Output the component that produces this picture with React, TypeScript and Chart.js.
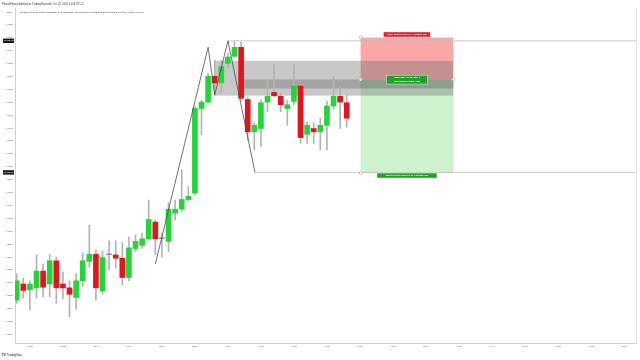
import { useEffect, useRef } from "react";
import { Chart, registerables } from "chart.js";

Chart.register(...registerables);

// ---- data (minutes since 13:28, 1-minute candles) ----
const minutes = [
  0, 1, 2, 3, 4, 5, 6, 7, 8, 9, 10, 11, 12, 13, 14, 15, 16, 17, 18, 19, 20, 21, 22, 23, 24, 25,
  26, 27, 28, 29, 30, 31, 32, 33, 34, 35, 36, 37, 38, 39, 40, 41, 42, 43, 44, 45, 46, 47, 48, 49, 50,
];
const opens = [
  14573.25, 14579.5, 14577.25, 14578, 14584.5, 14579.5, 14588.5, 14579.5, 14578, 14574.25,
  14580.75, 14588.25, 14591, 14576.75, 14591, 14590.75, 14589.5, 14582, 14593.25, 14594.5,
  14597, 14603.5, 14597.25, 14596, 14607, 14608.5, 14612.25, 14614.75, 14647.5, 14650,
  14660, 14657.5, 14665, 14667.75, 14671.25, 14651, 14638.5, 14639.75, 14650, 14653.75,
  14652.25, 14647.5, 14650.25, 14656.25, 14637.5, 14639.75, 14638.5, 14641, 14648.5, 14652.25,
  14649.75,
];
const highs = [
  14583.5, 14581.75, 14580.75, 14590.75, 14587.25, 14591, 14590, 14584.25, 14580.75, 14583.5,
  14591.5, 14602.25, 14592.75, 14592.25, 14596.25, 14596.25, 14595.5, 14597.75, 14598.5, 14599.25,
  14612, 14604.25, 14599.25, 14611, 14612, 14623.75, 14617.25, 14648.25, 14650.75, 14661.25,
  14666.25, 14666.25, 14669, 14673.5, 14673.25, 14652, 14642, 14650.75, 14658.5, 14664.5,
  14653.5, 14650.75, 14664.5, 14656.75, 14642.25, 14642, 14643.75, 14650.25, 14659.75, 14656,
  14652.75,
];
const lows = [
  14572, 14574, 14569.5, 14574, 14574.5, 14574.5, 14572, 14573.75, 14566.75, 14569.75,
  14578.5, 14586, 14573.25, 14575.5, 14585, 14585.75, 14579.25, 14580.75, 14592, 14593.25,
  14596.5, 14590.75, 14590, 14592, 14604.25, 14607.5, 14611.5, 14614, 14637.25, 14649.75,
  14652.75, 14653.5, 14663.25, 14667.5, 14650.75, 14635.25, 14631.5, 14632.75, 14646.25, 14652,
  14646.25, 14641, 14649, 14634, 14634, 14634, 14631.5, 14631.5, 14647.25, 14639.75,
  14640.25,
];
const closes = [
  14580.75, 14577, 14579.5, 14584.5, 14578.25, 14588.5, 14578, 14578, 14575.5, 14580.75,
  14588.5, 14591, 14578, 14589.75, 14591, 14589.5, 14582, 14593.5, 14596, 14597,
  14604.5, 14597, 14597.25, 14608.5, 14608.5, 14612.25, 14613.5, 14647.5, 14650, 14660,
  14657.5, 14663.75, 14667.5, 14671.25, 14651.5, 14638.5, 14641, 14649.75, 14652.25, 14652.5,
  14649, 14649, 14656.25, 14636.25, 14641, 14638.5, 14641, 14648.5, 14652.25, 14650,
  14643.75,
];

const priceTicks = [
  14560, 14565, 14570, 14575, 14580, 14585, 14590, 14595, 14600, 14605, 14610, 14615, 14620,
  14625, 14630, 14635, 14640, 14645, 14650, 14655, 14660, 14665, 14670, 14675, 14680,
];
const timeTickIdx = [2, 7, 12, 17, 22, 27, 32, 37, 42, 47, 52, 57, 62, 67, 72, 77, 82, 87, 92];
const timeTickLabels = [
  "13:30", "13:35", "13:40", "13:45", "13:50", "13:55", "14:00", "14:05", "14:10", "14:15",
  "14:20", "14:25", "14:30", "14:35", "14:40", "14:45", "14:50", "14:55", "15:00",
];

// drawings (chart units)
const zigzagX = [21, 29, 30, 32, 36.1];
const zigzagY = [14587.25, 14671.25, 14652.75, 14673.75, 14622.75];
const levelTop = 14673.75;
const levelTopStart = 32;
const levelBottom = 14622.75;
const levelBottomStart = 36.1;
const rangeStart = 30;
const rangeEnd = 66.15;
const rangeHigh = 14666;
const rangeLow = 14652.5;
const bandStart = 34.25;
const bandHigh = 14658.75;
const bandLow = 14655.25;
const posStart = 52.1;
const posEnd = 66.15;
const posEntry = 14658.75;
const posStop = 14675;
const posTarget = 14622.5;

const xMin = -0.26;
const xMax = 93.83;
const yMin = 14556.63;
const yMax = 14686.47;

const GREEN = "#22d639";
const RED = "#e3151c";
const FONT = "'Liberation Sans', Arial, sans-serif";

const overlay = {
  id: "overlay",
  beforeDatasetsDraw(chart: any) {
    const { ctx, chartArea: a, scales } = chart;
    const x = scales.x;
    const y = scales.y;
    const rect = (x0: number, x1: number, v0: number, v1: number, c: string) => {
      const px0 = x.getPixelForValue(x0);
      const px1 = x.getPixelForValue(x1);
      const py0 = y.getPixelForValue(v0);
      const py1 = y.getPixelForValue(v1);
      ctx.fillStyle = c;
      ctx.fillRect(px0, Math.min(py0, py1), px1 - px0, Math.abs(py1 - py0));
    };
    ctx.save();
    ctx.beginPath();
    ctx.rect(a.left, a.top, a.right - a.left, a.bottom - a.top);
    ctx.clip();
    rect(posStart, posEnd, posEntry, posStop, "rgba(242,60,60,0.45)");
    rect(posStart, posEnd, posTarget, posEntry, "rgba(60,200,60,0.25)");
    rect(rangeStart, rangeEnd, rangeLow, rangeHigh, "rgba(110,110,110,0.38)");
    rect(bandStart, rangeEnd, bandLow, bandHigh, "rgba(80,80,80,0.3)");
    ctx.restore();
  },
  afterDraw(chart: any) {
    const { ctx, chartArea: a, scales } = chart;
    const x = scales.x;
    const y = scales.y;
    ctx.save();
    // right border
    ctx.strokeStyle = "#e2e2e2";
    ctx.lineWidth = 1;
    ctx.beginPath();
    ctx.moveTo(a.right + 0.5, a.top);
    ctx.lineTo(a.right + 0.5, a.bottom);
    ctx.stroke();

    const midX = (x.getPixelForValue(posStart) + x.getPixelForValue(posEnd)) / 2;
    const label = (cx: number, top: number, w: number, h: number, bg: string, lines: string[]) => {
      ctx.fillStyle = bg;
      ctx.fillRect(cx - w / 2, top, w, h);
      ctx.strokeStyle = "rgba(255,255,255,0.8)";
      ctx.lineWidth = 0.5;
      ctx.strokeRect(cx - w / 2, top, w, h);
      ctx.fillStyle = "#ffffff";
      ctx.font = `bold 2.3px ${FONT}`;
      ctx.textAlign = "center";
      ctx.textBaseline = "middle";
      const lh = h / lines.length;
      lines.forEach((t, i) => ctx.fillText(t, cx, top + lh * (i + 0.5)));
    };
    const pStop = y.getPixelForValue(posStop);
    const pEntry = y.getPixelForValue(posEntry);
    const pTarget = y.getPixelForValue(posTarget);
    label(midX, pStop - 5.6, 47, 5, "#e3202a", ["Stop: 16.25 (0.11%) 65, Amount: 325"]);
    label(midX, pEntry - 4.3, 40.6, 8.8, "#1fa42a", ["Open P&L: 14.75, Qty: 1", "Risk/Reward Ratio: 2.23"]);
    label(midX, pTarget, 60, 5, "#1fa42a", ["Target: 36.25 (0.25%) 145, Amount: 725"]);

    // handles
    const px0 = x.getPixelForValue(posStart);
    const px1 = x.getPixelForValue(posEnd);
    const handle = (hx: number, hy: number) => {
      ctx.beginPath();
      ctx.arc(hx, hy, 1.5, 0, Math.PI * 2);
      ctx.fillStyle = "#ffffff";
      ctx.fill();
      ctx.strokeStyle = "#9a9a9a";
      ctx.lineWidth = 0.6;
      ctx.stroke();
    };
    handle(px0, pStop);
    handle(px0, pEntry);
    handle(px1, pEntry);
    handle(px0, pTarget);

    // axis price boxes
    const axisBox = (v: number) => {
      const py = y.getPixelForValue(v);
      ctx.fillStyle = "#131722";
      ctx.fillRect(3, py - 2.2, 11, 4.4);
      ctx.fillStyle = "#ffffff";
      ctx.font = `2.4px ${FONT}`;
      ctx.textAlign = "center";
      ctx.textBaseline = "middle";
      ctx.fillText(v.toFixed(2), 8.5, py);
    };
    axisBox(levelTop);
    axisBox(levelBottom);

    // header texts
    ctx.fillStyle = "#333333";
    ctx.textAlign = "left";
    ctx.textBaseline = "middle";
    ctx.font = `2.6px ${FONT}`;
    ctx.fillText("PharaoFlow published on TradingView.com, Oct 25, 2023 14:18 UTC-5", 2, 4);
    ctx.fillStyle = "#131722";
    ctx.font = `2.5px ${FONT}`;
    ctx.fillText(
      "NASDAQ 100 E-MINI FUTURES, 1, BATS/CME   O14649.75 H14652.75 L14640.25 C14643.75 −6.25 (−0.04%)",
      20,
      12
    );
    ctx.fillStyle = "#555555";
    ctx.font = `2.4px ${FONT}`;
    ctx.fillText("USD", 6.5, 12);
    // logo
    ctx.fillStyle = "#131722";
    ctx.font = `bold 3px ${FONT}`;
    ctx.fillText("TV", 2, 354.8);
    ctx.font = `2.7px ${FONT}`;
    ctx.fillText("TradingView", 7, 354.8);
    ctx.restore();
  },
};

export default function App() {
  const ref = useRef<HTMLCanvasElement | null>(null);
  useEffect(() => {
    if (!ref.current) return;
    const bodies = minutes.map((m, i) => {
      const o = opens[i];
      const c = closes[i];
      if (Math.abs(c - o) < 0.2) return { x: m, y: [o - 0.15, o + 0.15] };
      return { x: m, y: [Math.min(o, c), Math.max(o, c)] };
    });
    const bodyColors = minutes.map((_, i) =>
      closes[i] > opens[i] ? GREEN : closes[i] < opens[i] ? RED : "#8a8a8a"
    );
    const wicks = minutes.map((m, i) => ({ x: m, y: [lows[i], highs[i]] }));
    const zig = zigzagX.map((v, i) => ({ x: v, y: zigzagY[i] }));
    const topLine = [
      { x: levelTopStart, y: levelTop },
      { x: xMax, y: levelTop },
    ];
    const botLine = [
      { x: levelBottomStart, y: levelBottom },
      { x: xMax, y: levelBottom },
    ];
    const chart = new Chart(ref.current, {
      type: "bar",
      data: {
        datasets: [
          {
            type: "line",
            data: zig,
            borderColor: "#4d4d4d",
            borderWidth: 0.8,
            pointRadius: 0,
            order: -3,
          } as any,
          {
            type: "line",
            data: topLine,
            borderColor: "#bdbdbd",
            borderWidth: 0.8,
            pointRadius: 0,
            order: -2,
          } as any,
          {
            type: "line",
            data: botLine,
            borderColor: "#bdbdbd",
            borderWidth: 0.8,
            pointRadius: 0,
            order: -1,
          } as any,
          {
            type: "bar",
            data: bodies,
            backgroundColor: bodyColors,
            borderWidth: 0,
            barThickness: 5,
            grouped: false,
            order: 0,
          } as any,
          {
            type: "bar",
            data: wicks,
            backgroundColor: "#b3b3b3",
            borderWidth: 0,
            barThickness: 1,
            grouped: false,
            order: 1,
          } as any,
        ],
      },
      options: {
        responsive: false,
        animation: false,
        devicePixelRatio: 1,
        events: [],
        layout: { padding: { left: 0, right: 4, top: 8, bottom: 8 } },
        plugins: { legend: { display: false }, tooltip: { enabled: false } },
        scales: {
          x: {
            type: "linear",
            min: xMin,
            max: xMax,
            offset: false,
            grid: { display: false, drawTicks: false, offset: false },
            border: { display: true, color: "#cfcfcf", width: 1 },
            afterBuildTicks: (s: any) => {
              s.ticks = timeTickIdx.map((v) => ({ value: v }));
            },
            afterFit: (s: any) => {
              s.height = 9;
            },
            ticks: {
              autoSkip: false,
              maxRotation: 0,
              padding: 2,
              color: "#555555",
              font: { family: FONT, size: 2.2 },
              callback: (v: any) => timeTickLabels[timeTickIdx.indexOf(Number(v))] ?? "",
            },
          },
          y: {
            type: "linear",
            position: "left",
            min: yMin,
            max: yMax,
            grid: { display: false, drawTicks: false },
            border: { display: true, color: "#cfcfcf", width: 1 },
            afterBuildTicks: (s: any) => {
              s.ticks = priceTicks.map((v) => ({ value: v }));
            },
            afterFit: (s: any) => {
              s.width = 15;
            },
            ticks: {
              autoSkip: false,
              padding: 2,
              color: "#555555",
              font: { family: FONT, size: 2.5 },
              callback: (v: any) => String(v),
            },
          },
        },
      } as any,
      plugins: [overlay],
    });
    return () => chart.destroy();
  }, []);
  return (
    <div style={{ position: "absolute", left: 0, top: 0, width: 640, height: 360, background: "#ffffff" }}>
      <canvas ref={ref} width={640} height={360} style={{ display: "block", width: 640, height: 360 }} />
    </div>
  );
}
